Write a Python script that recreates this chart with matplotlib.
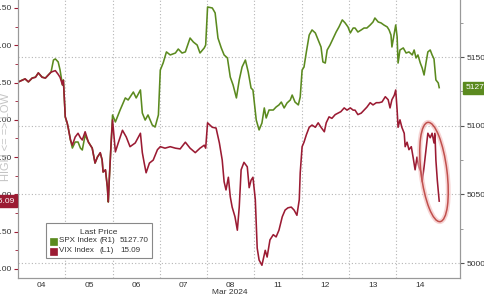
import matplotlib
matplotlib.use("Agg")
import matplotlib.pyplot as plt
import matplotlib.transforms as mtransforms
from matplotlib.patches import Ellipse, Rectangle
from matplotlib.ticker import MultipleLocator, FixedLocator, FuncFormatter

plt.rcParams["font.family"] = ["Liberation Sans", "DejaVu Sans"]

# ---------------- data (time = trading days since Mar 4 open) ----------------
day_labels = ["04", "05", "06", "07", "08", "11", "12", "13", "14"]
month_label = "Mar 2024"

spx_t = [0.01, 0.09, 0.15, 0.22, 0.30, 0.37, 0.43, 0.51, 0.58, 0.64, 0.70, 0.75, 0.79, 0.85, 0.89,
         0.94, 0.96, 1.00, 1.04, 1.06, 1.11, 1.15, 1.21, 1.27, 1.32, 1.36, 1.42, 1.49, 1.57, 1.63,
         1.68, 1.74, 1.78, 1.80, 1.85, 1.89, 1.91, 1.93, 1.97, 2.00, 2.06, 2.16, 2.27, 2.33, 2.44,
         2.50, 2.59, 2.63, 2.69, 2.75, 2.84, 2.90, 2.97, 3.01, 3.07, 3.14, 3.22, 3.33, 3.39, 3.47,
         3.54, 3.64, 3.71, 3.79, 3.85, 3.94, 3.97, 4.01, 4.11, 4.17, 4.23, 4.30, 4.36, 4.43, 4.49,
         4.55, 4.62, 4.68, 4.74, 4.81, 4.87, 4.93, 4.97, 5.04, 5.10, 5.16, 5.21, 5.25, 5.31, 5.40,
         5.46, 5.52, 5.57, 5.63, 5.69, 5.76, 5.80, 5.86, 5.93, 5.97, 6.01, 6.05, 6.10, 6.16, 6.22,
         6.29, 6.35, 6.41, 6.45, 6.50, 6.54, 6.60, 6.67, 6.73, 6.79, 6.86, 6.92, 6.98, 7.03, 7.09,
         7.13, 7.19, 7.26, 7.32, 7.38, 7.45, 7.51, 7.55, 7.62, 7.68, 7.74, 7.81, 7.85, 7.89, 7.91,
         7.96, 7.99, 8.02, 8.04, 8.08, 8.15, 8.21, 8.27, 8.34, 8.38, 8.42, 8.46, 8.51, 8.55, 8.59,
         8.63, 8.67, 8.72, 8.76, 8.80, 8.84, 8.89, 8.91]
spx_v = [5131.8, 5133.3, 5134.0, 5131.8, 5134.7, 5135.4, 5138.4, 5135.4, 5134.7, 5136.9, 5139.1,
         5147.8, 5148.6, 5146.4, 5140.5, 5129.6, 5133.3, 5106.3, 5101.9, 5099.0, 5089.6, 5083.7,
         5088.1, 5088.1, 5083.7, 5082.3, 5093.2, 5088.1, 5083.7, 5072.8, 5077.2, 5080.1, 5075.0,
         5066.3, 5067.7, 5055.3, 5044.4, 5060.4, 5087.4, 5107.8, 5102.7, 5111.4, 5120.2, 5118.7,
         5124.5, 5120.2, 5126.0, 5109.2, 5104.1, 5107.8, 5100.5, 5099.0, 5107.8, 5140.5, 5145.6,
         5153.7, 5151.5, 5152.9, 5155.8, 5152.9, 5153.7, 5163.8, 5160.9, 5158.7, 5152.9, 5156.6,
         5158.7, 5186.4, 5185.7, 5182.1, 5163.8, 5156.6, 5151.5, 5149.3, 5135.4, 5129.6, 5120.2,
         5133.3, 5142.7, 5147.8, 5139.1, 5127.4, 5126.0, 5104.1, 5096.9, 5101.9, 5112.9, 5105.6,
         5111.4, 5111.4, 5113.6, 5115.1, 5117.2, 5112.9, 5116.5, 5118.7, 5122.3, 5117.2, 5115.1,
         5120.9, 5140.5, 5142.7, 5153.7, 5166.0, 5169.7, 5167.5, 5162.4, 5157.3, 5146.4, 5145.6,
         5155.1, 5158.7, 5163.8, 5168.2, 5171.9, 5177.0, 5174.8, 5171.9, 5167.5, 5171.1, 5171.1,
         5168.2, 5169.7, 5171.1, 5171.1, 5173.3, 5175.5, 5178.4, 5175.5, 5174.8, 5173.3, 5171.9,
         5169.7, 5166.0, 5157.3, 5167.5, 5173.3, 5164.6, 5145.6, 5155.1, 5156.6, 5152.9, 5153.7,
         5151.5, 5155.1, 5149.3, 5151.5, 5145.6, 5142.0, 5136.9, 5145.6, 5153.7, 5155.1, 5151.5,
         5148.6, 5133.3, 5131.1, 5127.7]

vix_t = [0.01, 0.09, 0.15, 0.22, 0.30, 0.37, 0.43, 0.51, 0.58, 0.64, 0.70, 0.79, 0.85, 0.89, 0.94,
         0.96, 1.00, 1.04, 1.06, 1.11, 1.15, 1.21, 1.27, 1.32, 1.36, 1.42, 1.49, 1.57, 1.63, 1.68,
         1.74, 1.78, 1.80, 1.85, 1.89, 1.91, 1.93, 1.97, 2.00, 2.06, 2.12, 2.21, 2.29, 2.37, 2.48,
         2.59, 2.63, 2.67, 2.71, 2.78, 2.86, 2.95, 3.01, 3.11, 3.22, 3.33, 3.43, 3.54, 3.64, 3.75,
         3.85, 3.94, 3.97, 4.01, 4.11, 4.19, 4.26, 4.32, 4.36, 4.40, 4.45, 4.49, 4.53, 4.59, 4.64,
         4.68, 4.72, 4.78, 4.85, 4.89, 4.93, 4.97, 5.02, 5.06, 5.10, 5.16, 5.23, 5.27, 5.33, 5.40,
         5.46, 5.52, 5.59, 5.65, 5.71, 5.78, 5.84, 5.90, 5.95, 5.97, 6.01, 6.05, 6.10, 6.16, 6.22,
         6.29, 6.35, 6.41, 6.48, 6.52, 6.58, 6.64, 6.71, 6.77, 6.83, 6.90, 6.96, 7.03, 7.09, 7.13,
         7.19, 7.26, 7.32, 7.38, 7.45, 7.51, 7.58, 7.64, 7.70, 7.77, 7.83, 7.87, 7.91, 7.96, 7.99,
         8.02, 8.04, 8.08, 8.12, 8.17, 8.19, 8.23, 8.27, 8.32, 8.36, 8.40, 8.44, 8.48, 8.53, 8.55,
         8.59, 8.63, 8.67, 8.72, 8.76, 8.80, 8.82, 8.84, 8.87, 8.91]
vix_v = [13.49, 13.47, 13.45, 13.49, 13.44, 13.43, 13.37, 13.43, 13.44, 13.40, 13.36, 13.34, 13.39,
         13.43, 13.53, 13.47, 13.96, 14.04, 14.10, 14.27, 14.34, 14.23, 14.18, 14.24, 14.27, 14.16,
         14.30, 14.38, 14.58, 14.50, 14.44, 14.54, 14.70, 14.67, 14.90, 15.10, 14.81, 14.31, 14.00,
         14.43, 14.31, 14.14, 14.23, 14.36, 14.31, 14.18, 14.44, 14.58, 14.71, 14.58, 14.54, 14.40,
         14.36, 14.38, 14.36, 14.38, 14.39, 14.30, 14.38, 14.44, 14.38, 14.34, 14.38, 14.04, 14.10,
         14.11, 14.31, 14.54, 14.83, 14.94, 14.77, 15.03, 15.17, 15.30, 15.48, 15.17, 14.67, 14.57,
         14.63, 14.91, 14.81, 14.77, 15.07, 15.72, 15.88, 15.95, 15.75, 15.84, 15.61, 15.54, 15.57,
         15.48, 15.30, 15.21, 15.18, 15.17, 15.21, 15.28, 15.07, 14.71, 14.36, 14.30, 14.20, 14.10,
         14.07, 14.10, 14.04, 14.10, 14.16, 14.04, 13.96, 13.98, 13.93, 13.91, 13.89, 13.84, 13.87,
         13.84, 13.87, 13.87, 13.93, 13.91, 13.87, 13.83, 13.77, 13.80, 13.77, 13.77, 13.76, 13.69,
         13.73, 13.84, 13.73, 13.67, 13.60, 13.87, 14.10, 14.00, 14.10, 14.18, 14.36, 14.30, 14.40,
         14.36, 14.51, 14.67, 14.50, 14.63, 14.71, 14.83, 14.63, 14.40, 14.18, 14.24, 14.18, 14.31,
         14.18, 14.54, 14.81, 15.09]

spx_last = 5127.70
vix_last = 15.09
spx_name = "SPX Index"
vix_name = "VIX Index"

# ---------------- style ----------------
GREEN = "#5b8a1f"
RED = "#9b1b33"
TXT = "#333333"
GRID = "#b5b5b5"
FS = 6.0
W, H = 485, 300

fig = plt.figure(figsize=(4.85, 3.00), dpi=100)
fig.patch.set_facecolor("white")

# inverted axis hint (drawn first, behind everything)
fig.text(6 / W, 1 - 137 / H, "HIGH <= => LOW", rotation=90, ha="center", va="center",
         fontsize=8, color="#c4c4c4", zorder=0)

ax_spx = fig.add_axes([18 / W, 22 / H, 442 / W, 278 / H])
ax_vix = ax_spx.twinx()

ax_spx.yaxis.tick_right()
ax_spx.yaxis.set_label_position("right")
ax_vix.yaxis.tick_left()
ax_vix.yaxis.set_label_position("left")

ax_spx.set_xlim(0, 9.35)
ax_spx.set_ylim(4989.1, 5191.5)
ax_vix.set_ylim(16.121, 12.393)

ax_spx.plot(spx_t, spx_v, color=GREEN, lw=1.15, solid_joinstyle="round")
ax_vix.plot(vix_t, vix_v, color=RED, lw=1.15, solid_joinstyle="round")

# grid / x ticks
ax_spx.xaxis.set_major_locator(FixedLocator(list(range(1, 9))))
ax_spx.xaxis.set_minor_locator(FixedLocator([i + 0.5 for i in range(len(day_labels))]))
ax_spx.xaxis.set_major_formatter(FuncFormatter(lambda v, p: ""))
ax_spx.xaxis.set_minor_formatter(FuncFormatter(
    lambda v, p: day_labels[int(v)] if 0 <= int(v) < len(day_labels) else ""))
ax_spx.tick_params(axis="x", which="both", length=0, labelsize=FS, labelcolor=TXT, pad=3)
ax_spx.grid(True, axis="x", which="major", color=GRID, ls=(0, (1, 2)), lw=0.8)

ax_spx.yaxis.set_major_locator(MultipleLocator(50))
ax_spx.yaxis.set_minor_locator(MultipleLocator(25))
ax_spx.yaxis.set_major_formatter(FuncFormatter(lambda v, p: f"{v:.0f}"))
ax_spx.grid(True, axis="y", which="major", color=GRID, ls=(0, (1, 2)), lw=0.8)
ax_spx.tick_params(axis="y", which="major", length=3, color="#555555", labelsize=FS,
                   labelcolor=TXT, pad=1.5)
ax_spx.tick_params(axis="y", which="minor", length=2, color="#888888")

ax_vix.yaxis.set_major_locator(MultipleLocator(0.5))
ax_vix.yaxis.set_minor_locator(MultipleLocator(0.25))
ax_vix.yaxis.set_major_formatter(FuncFormatter(lambda v, p: f"{v:.2f}"))
ax_vix.tick_params(axis="y", which="major", length=3, color=RED, labelsize=FS,
                   labelcolor=TXT, pad=1.5)
ax_vix.tick_params(axis="y", which="minor", length=2, color=RED)

for a in (ax_spx, ax_vix):
    a.spines["top"].set_visible(False)
    for s in ("left", "right", "bottom"):
        a.spines[s].set_color("#999999")
        a.spines[s].set_linewidth(0.8)

# month label
fig.text(230 / W, 1 - 293 / H, month_label, ha="center", va="center", fontsize=FS, color=TXT)

# last value boxes
tr_r = mtransforms.blended_transform_factory(ax_spx.transAxes, ax_spx.transData)
ax_spx.text(1.012, spx_last, f"{spx_last:.2f}", transform=tr_r, ha="left", va="center",
            fontsize=FS, color="white", clip_on=False,
            bbox=dict(boxstyle="square,pad=0.3", fc=GREEN, ec=GREEN))
tr_l = mtransforms.blended_transform_factory(ax_vix.transAxes, ax_vix.transData)
ax_vix.text(-0.008, vix_last, f"{vix_last:.2f}", transform=tr_l, ha="right", va="center",
            fontsize=FS, color="white", clip_on=False,
            bbox=dict(boxstyle="square,pad=0.3", fc=RED, ec=RED))

# highlight ellipse (pixel coordinates)
for lw, col, al in ((3.5, "#f2b8b8", 0.6), (1.1, "#c0504d", 1.0)):
    e = Ellipse((434, H - 172), 26, 100, angle=7, fill=False, lw=lw, ec=col, alpha=al,
                transform=mtransforms.IdentityTransform())
    fig.add_artist(e)

# legend (drawn in figure fraction)
fig.add_artist(Rectangle((46 / W, 1 - 258 / H), 106 / W, 35 / H, transform=fig.transFigure,
                         fc="white", ec="#888888", lw=0.8, zorder=5))
fig.text(99 / W, 1 - 232 / H, "Last Price", ha="center", va="center", fontsize=FS,
         color=TXT, zorder=6)
rows = [(241, GREEN, spx_name, "(R1)", f"{spx_last:.2f}"),
        (251, RED, vix_name, "(L1)", f"{vix_last:.2f}")]
for y, col, name, side, val in rows:
    fig.add_artist(Rectangle((50 / W, 1 - (y + 3.5) / H), 7 / W, 7 / H, transform=fig.transFigure,
                             fc=col, ec=col, lw=0.5, zorder=6))
    fig.text(59 / W, 1 - y / H, name, ha="left", va="center", fontsize=5.8, color=TXT, zorder=6)
    fig.text(100 / W, 1 - y / H, side, ha="left", va="center", fontsize=5.8, color=TXT, zorder=6)
    fig.text(120 / W, 1 - y / H, val, ha="left", va="center", fontsize=5.8, color=TXT, zorder=6)

fig.savefig("out.png", dpi=100)
